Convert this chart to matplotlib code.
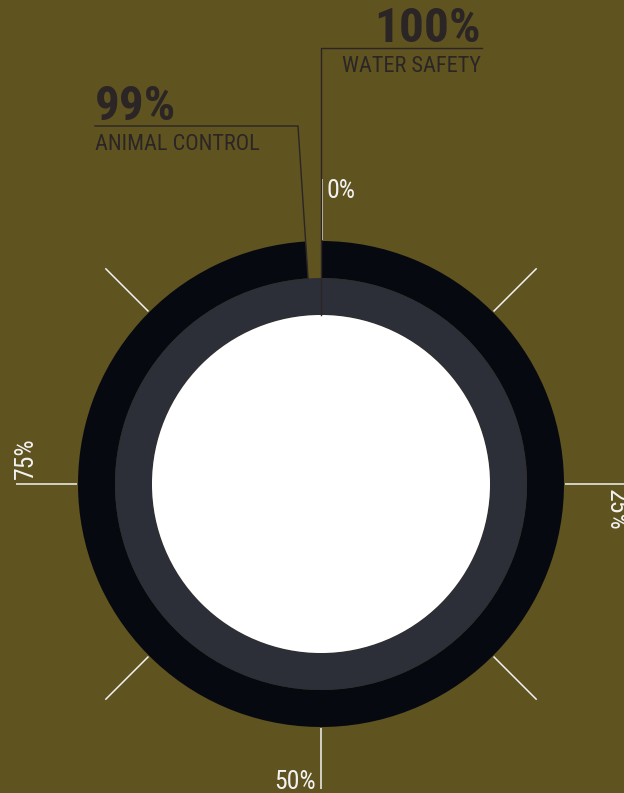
import numpy as np
import matplotlib
matplotlib.use("Agg")
import matplotlib.pyplot as plt
from matplotlib.patches import Wedge, Circle
from matplotlib import font_manager

# Program coverage (percent), inner ring first
programs = ["WATER SAFETY", "ANIMAL CONTROL"]
coverage = [100, 99]
value_labels = ["100%", "99%"]

# Scale ticks around the rings
tick_pcts = [0, 12.5, 25, 37.5, 50, 62.5, 75, 87.5]
scale_pcts = [0, 25, 50, 75]
scale_labels = ["0%", "25%", "50%", "75%"]

BG = "#5f531f"
RING_COLORS = ["#2d2f38", "#070911"]
TEXT = "#2b2526"
TICK = "#f2f2f2"

# prefer a condensed face if one is around
installed = {f.name for f in font_manager.fontManager.ttflist}
condensed = [n for n in ["Roboto Condensed", "Liberation Sans Narrow", "Open Sans Condensed"]
             if n in installed]
plt.rcParams["font.family"] = condensed + ["Roboto", "DejaVu Sans"]
narrow = bool(condensed)

W, H = 624, 793
fig = plt.figure(figsize=(W / 100, H / 100), dpi=100, facecolor=BG)
ax = fig.add_axes([0, 0, 1, 1])
ax.set_xlim(0, W)
ax.set_ylim(H, 0)
ax.set_aspect("equal")
ax.axis("off")

cx, cy = 321, 484
r_hole, r_mid, r_out = 169, 206, 243
bands = [(r_hole, r_mid), (r_mid, r_out)]


def pct_to_deg(p):
    # y axis points down, so angles run clockwise from the top
    return -90 + 360 * p / 100


def polar(r, p):
    t = np.radians(pct_to_deg(p))
    return cx + r * np.cos(t), cy + r * np.sin(t)


# rings
for (r0, r1), val, col in zip(bands, coverage, RING_COLORS):
    if val >= 100:
        ax.add_patch(Wedge((cx, cy), r1, 0, 360, width=r1 - r0, color=col, lw=0))
    else:
        ax.add_patch(Wedge((cx, cy), r1, pct_to_deg(0), pct_to_deg(val),
                           width=r1 - r0, color=col, lw=0))
ax.add_patch(Circle((cx, cy), r_hole, color="white", lw=0))

# scale ticks
for p in tick_pcts:
    x0, y0 = polar(r_out + 1, p)
    x1, y1 = polar(r_out + 62, p)
    shift = 1 if p == 0 else 0
    ax.plot([x0 + shift, x1 + shift], [y0, y1],
            color=TICK, lw=1.1, solid_capstyle="butt")

# scale labels, set just clockwise of each tick
r_lab, off = 295, 5
lab_fs = 18.5 if narrow else 15
ax.text(cx + off, cy - r_lab + 2.5, scale_labels[0], color=TICK, fontsize=lab_fs,
        ha="left", va="center")
ax.text(cx + r_lab, cy + off, scale_labels[1], color=TICK, fontsize=lab_fs,
        ha="left", va="center", rotation=270, rotation_mode="anchor")
ax.text(cx - off, cy + r_lab + 3, scale_labels[2], color=TICK, fontsize=lab_fs,
        ha="right", va="center")
ax.text(cx - r_lab, cy - off, scale_labels[3], color=TICK, fontsize=lab_fs,
        ha="left", va="center", rotation=90, rotation_mode="anchor")

big_fs = 35.5 if narrow else 30
name_fs = 16 if narrow else 13.5

# callout: water safety (inner ring, ends at the top)
wx, wy = polar(r_hole, coverage[0])
ax.plot([wx, wx, 482], [wy, 48, 48], color=TEXT, lw=1.0)
ax.text(481, 42, value_labels[0], color=TEXT, fontsize=big_fs, fontweight="bold",
        ha="right", va="baseline")
ax.text(481, 72, programs[0], color=TEXT, fontsize=name_fs, ha="right", va="baseline")

# callout: animal control (outer ring end)
ax_, ay_ = polar(r_mid, coverage[1])
ax.plot([95, 298, ax_], [126, 126, ay_], color=TEXT, lw=1.0)
ax.text(95, 120, value_labels[1], color=TEXT, fontsize=big_fs, fontweight="bold",
        ha="left", va="baseline")
ax.text(95, 150, programs[1], color=TEXT, fontsize=name_fs, ha="left", va="baseline")

fig.savefig("out.png", dpi=100, facecolor=BG)
